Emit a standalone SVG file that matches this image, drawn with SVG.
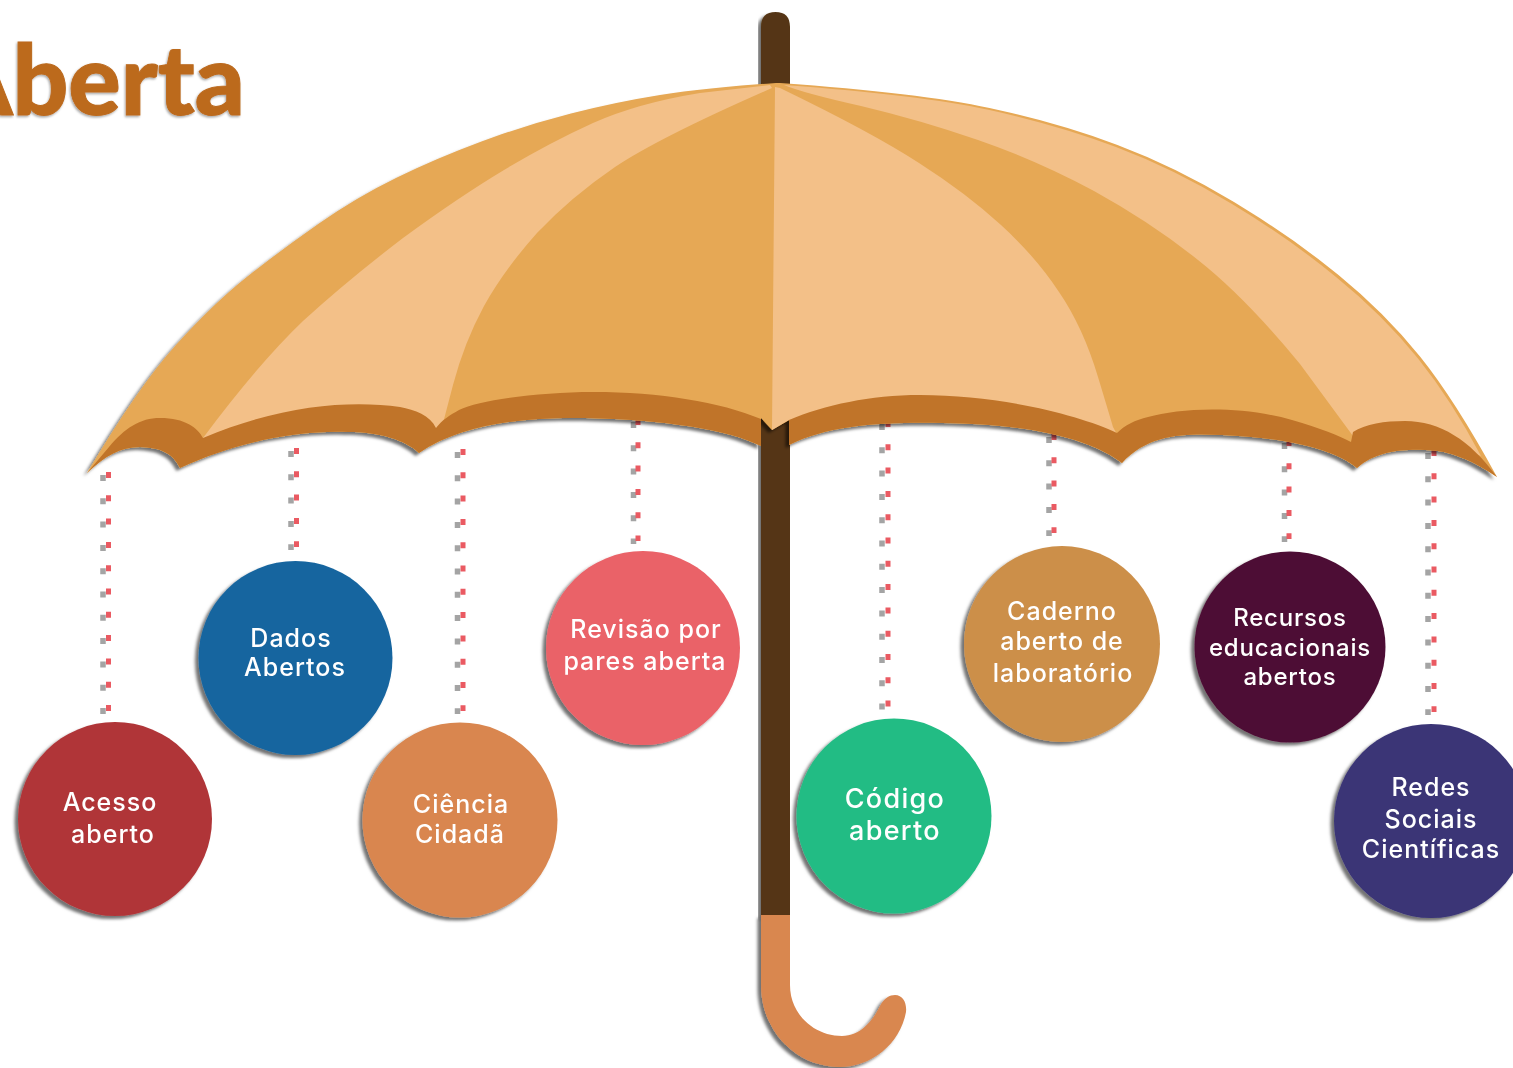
<svg xmlns="http://www.w3.org/2000/svg" width="1513" height="1068" viewBox="0 0 1513 1068">
<defs>
<filter id="sh" x="-10%" y="-10%" width="120%" height="120%"><feDropShadow dx="-3.500" dy="3" stdDeviation="1.800" flood-color="#000" flood-opacity="0.55"/></filter>
<filter id="ts" x="-5%" y="-5%" width="110%" height="110%"><feDropShadow dx="-1" dy="1.500" stdDeviation="1" flood-color="#000" flood-opacity="0.35"/></filter>
<style>
.lbl{font-family:"Inter","DejaVu Sans",sans-serif;font-size:25px;font-weight:500;letter-spacing:1px;fill:#fff;text-anchor:middle}
.big{font-size:27px;letter-spacing:1.300px}
.sm{font-size:24px;letter-spacing:.8px}
.dr{fill:none;stroke:#EA5A62;stroke-width:5;stroke-dasharray:6 17.3}
.dg{fill:none;stroke:#A4A4A4;stroke-width:5.500;stroke-dasharray:6 17.3}
.n{filter:url(#sh)}
.lt{fill:#F3C088}
</style>
</defs>
<rect width="1513" height="1068" fill="#fff"/>
<text id="title" x="245" y="115" font-family="Lato,'Open Sans',sans-serif" font-weight="900" font-size="98" fill="#BC6A1E" stroke="#BC6A1E" stroke-width="1" text-anchor="end" filter="url(#ts)">Aberta</text>
<g id="connectors">
<path class="dg" d="M103 475V714M291 451V550M457.500 452V714M633.500 422V544M882 424V709.500M1049 437V536M1284.500 443V542M1428 453V715"/>
<path class="dr" d="M108.500 472V711M296.500 448V547M463 449V711M638 419V541M888 421V706.500M1054 434V533M1289 440V539M1434 450V712"/>
</g>
<g id="pole">
<path d="M761 84V27Q761 12 775.500 12Q790 12 790 27V84Z" fill="#553614" filter="url(#sh)"/>
<rect x="761" y="415" width="29" height="501" fill="#553614" filter="url(#sh)"/>
<path d="M761 915H790V985C790 1015 815 1036 842 1036C860 1036 872 1022 880 1006C884 998 890 995 895 995C903 995 907 1003 906 1012C900 1045 870 1067 840 1067C795 1067 761 1030 761 985Z" fill="#D98750" filter="url(#sh)"/>
</g>
<g id="canopy">
<path id="silhouette" d="M87 473Q138 387 176 345Q214 303 247.500 276.500Q281 250 319 223.500Q357 197 397 177.500Q437 158 481.500 141.500Q526 125 571 113.500Q616 102 660 95Q705 88 776 83L780 83Q920 93 989.500 108Q1059 123 1117.500 145Q1176 167 1234 202Q1292 237 1338.500 275Q1385 313 1420 356.500Q1455 400 1497 477C1475 462 1450 450 1425 450C1400 449 1375 452 1357 468C1335 450 1290 438 1222 435C1190 434 1150 432 1122 463C1095 442 1040 424 943 423C880 422 830 425 789 445L789 420L772 430L761 418L761 446L754 443C720 428 650 418 571 418C520 418 460 425 419 453C405 440 380 432 348 432C290 430 230 445 180 468C172 452 160 448 140 447C120 447 105 456 87 473Z" fill="#E6A854" filter="url(#sh)"/>
<path class="lt" d="M203 438Q259 363 303 321Q348 280 403 238Q459 197 504 170Q549 143 593 123Q638 103 700 93L770 85L772 88Q660 137 615 167Q571 197 537 233Q504 270 484 306Q464 343 453 385L442 427L438 432L400 415L300 415L210 440Z"/>
<path class="lt" d="M775 87L780 88Q873 133 919 163Q966 193 1001 225Q1036 257 1059 292Q1083 327 1098 377Q1108 410 1113 427L1120 440L1000 420L900 410L789 420L772 430Z"/>
<path class="lt" d="M784 85Q920 95 989.500 110Q1058 125 1116 147Q1174.500 169 1232 204Q1290 239 1336 277Q1383 315 1418 358.500Q1452 401 1481 456L1440 440L1405 435L1356 445L1353 436L1300 364Q1245 297 1198 260Q1152 223 1094 191Q1036 160 978 140Q920 120 861 106Q803 93 784 85Z"/>
<path id="hem" fill="#C07429" d="M87 473L109 447C125 428 140 418 160 418C185 418 198 428 203 438C280 405 350 400 400 407C415 410 430 415 436 428C442 420 450 415 459 410C480 400 540 392 593 392C660 392 720 402 761 419L761 446L754 443C720 428 650 418 571 418C520 418 460 425 419 453C405 440 380 432 348 432C290 430 230 445 180 468C172 452 160 448 140 447C120 447 105 456 87 473ZM789 420C825 405 870 395 920 395C1000 395 1080 415 1117 433C1125 425 1135 420 1148 417C1180 408 1240 405 1292 420C1320 428 1340 436 1351 442L1353 432C1365 424 1385 421 1405 421C1440 421 1470 440 1497 477C1475 462 1450 450 1425 450C1400 449 1375 452 1357 468C1335 450 1290 438 1222 435C1190 434 1150 432 1122 463C1095 442 1040 424 943 423C880 422 830 425 789 445Z"/>
</g>
<g id="n1" class="n"><circle cx="115" cy="819" r="97" fill="#B03639"/><text class="lbl" x="110" y="811">Acesso</text><text class="lbl" x="113" y="843">aberto</text></g>
<g id="n2" class="n"><circle cx="295.500" cy="658" r="97" fill="#17659F"/><text class="lbl" x="291" y="647">Dados</text><text class="lbl" x="295" y="676">Abertos</text></g>
<g id="n3" class="n"><circle cx="460" cy="820" r="97.500" fill="#D9864F"/><text class="lbl" x="461" y="813">Ciência</text><text class="lbl" x="460" y="843">Cidadã</text></g>
<g id="n4" class="n"><circle cx="643" cy="648" r="97" fill="#EA6268"/><text class="lbl" x="646" y="638">Revisão por</text><text class="lbl" x="645" y="670">pares aberta</text></g>
<g id="n5" class="n"><circle cx="894" cy="816" r="97.500" fill="#24BC84"/><text class="lbl big" x="895" y="808">Código</text><text class="lbl big" x="895" y="840">aberto</text></g>
<g id="n6" class="n"><circle cx="1062" cy="644" r="98" fill="#CC8F4A"/><text class="lbl" x="1062" y="620">Caderno</text><text class="lbl" x="1062" y="650">aberto de</text><text class="lbl" x="1063" y="682">laboratório</text></g>
<g id="n7" class="n"><circle cx="1290" cy="647" r="95.500" fill="#4D1034"/><text class="lbl sm" x="1290" y="626">Recursos</text><text class="lbl sm" x="1290" y="656">educacionais</text><text class="lbl sm" x="1290" y="685">abertos</text></g>
<g id="n8" class="n"><circle cx="1431" cy="821" r="97" fill="#3A3576"/><text class="lbl" x="1431" y="796">Redes</text><text class="lbl" x="1431" y="828">Sociais</text><text class="lbl" x="1431" y="858">Científicas</text></g>
</svg>
